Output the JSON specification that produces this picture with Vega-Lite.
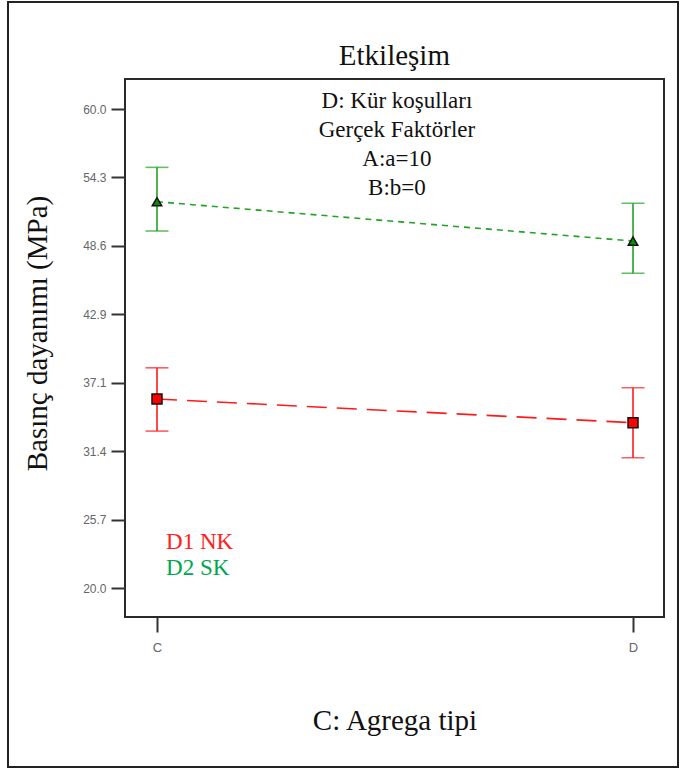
{
  "$schema": "https://vega.github.io/schema/vega-lite/v6.json",
  "width": 539,
  "height": 538,
  "autosize": {"type": "none"},
  "padding": {"left": 125, "top": 79, "right": 17, "bottom": 154},
  "background": "white",
  "config": {
    "view": {"stroke": "#2a2a2a", "strokeWidth": 2},
    "font": "Liberation Serif"
  },
  "datasets": {
    "means": [
      {"agrega": 0, "kur": "D1 NK", "mean": 35.8, "lo": 33.12, "hi": 38.4},
      {"agrega": 1, "kur": "D1 NK", "mean": 33.82, "lo": 30.9, "hi": 36.74},
      {"agrega": 0, "kur": "D2 SK", "mean": 52.26, "lo": 49.82, "hi": 55.13},
      {"agrega": 1, "kur": "D2 SK", "mean": 48.98, "lo": 46.29, "hi": 52.13}
    ],
    "title": [{"label": "Etkileşim"}],
    "note": [{"label": ["D: Kür koşulları", "Gerçek Faktörler", "A:a=10", "B:b=0"]}],
    "d1": [{"label": "D1 NK"}],
    "d2": [{"label": "D2 SK"}],
    "frame": [{"name": "frame"}]
  },
  "layer": [
    {
      "data": {"name": "means"},
      "encoding": {
        "x": {
          "field": "agrega",
          "type": "quantitative",
          "scale": {"domain": [-0.0672, 1.0651], "nice": false, "zero": false},
          "axis": {
            "title": "C: Agrega tipi",
            "values": [0, 1],
            "labelExpr": "datum.value == 0 ? 'C' : 'D'",
            "grid": false,
            "domain": false,
            "tickColor": "#333333",
            "tickWidth": 2,
            "tickSize": 15,
            "labelFont": "Liberation Sans",
            "labelFontSize": 13,
            "labelColor": "#666666",
            "labelPadding": 9,
            "titleFont": "Liberation Serif",
            "titleFontSize": 29,
            "titleFontWeight": "normal",
            "titleColor": "#111111",
            "titleBaseline": "alphabetic",
            "titleY": 112
          }
        },
        "y": {
          "field": "mean",
          "type": "quantitative",
          "scale": {"domain": [17.605, 62.504], "nice": false, "zero": false},
          "axis": {
            "title": "Basınç dayanımı (MPa)",
            "values": [20, 25.714, 31.429, 37.143, 42.857, 48.571, 54.286, 60],
            "format": ".1f",
            "grid": false,
            "domain": false,
            "tickColor": "#333333",
            "tickWidth": 2,
            "tickSize": 14,
            "labelFont": "Liberation Sans",
            "labelFontSize": 12,
            "labelColor": "#666666",
            "labelPadding": 5,
            "titleFont": "Liberation Serif",
            "titleFontSize": 29,
            "titleFontWeight": "normal",
            "titleColor": "#111111",
            "titleAngle": -90,
            "titleBaseline": "alphabetic",
            "titleX": -79,
            "titleY": 254
          }
        }
      },
      "layer": [
        {
          "mark": {"type": "rule", "strokeWidth": 1.6},
          "encoding": {
            "y": {"field": "lo", "type": "quantitative"},
            "y2": {"field": "hi"},
            "color": {"field": "kur", "type": "nominal", "scale": {"domain": ["D1 NK", "D2 SK"], "range": ["#ff1a1a", "#22a322"]}, "legend": null}
          }
        },
        {
          "mark": {"type": "tick", "orient": "horizontal", "size": 23, "thickness": 1.6},
          "encoding": {
            "y": {"field": "lo", "type": "quantitative"},
            "color": {"field": "kur", "type": "nominal", "legend": null}
          }
        },
        {
          "mark": {"type": "tick", "orient": "horizontal", "size": 23, "thickness": 1.6},
          "encoding": {
            "y": {"field": "hi", "type": "quantitative"},
            "color": {"field": "kur", "type": "nominal", "legend": null}
          }
        },
        {
          "mark": {"type": "line", "strokeWidth": 1.6},
          "encoding": {
            "color": {"field": "kur", "type": "nominal", "legend": null},
            "strokeDash": {"field": "kur", "type": "nominal", "scale": {"domain": ["D1 NK", "D2 SK"], "range": [[20, 10], [6, 5]]}, "legend": null}
          }
        },
        {
          "mark": {"type": "point", "filled": true, "stroke": "#111111", "strokeWidth": 1.5, "opacity": 1},
          "encoding": {
            "shape": {"field": "kur", "type": "nominal", "scale": {"domain": ["D1 NK", "D2 SK"], "range": ["square", "triangle-up"]}, "legend": null},
            "size": {"field": "kur", "type": "nominal", "scale": {"domain": ["D1 NK", "D2 SK"], "range": [100, 90]}, "legend": null},
            "fill": {"field": "kur", "type": "nominal", "scale": {"domain": ["D1 NK", "D2 SK"], "range": ["#ff0000", "#0d8a0d"]}, "legend": null}
          }
        }
      ]
    },
    {
      "data": {"name": "title"},
      "mark": {"type": "text", "font": "Liberation Serif", "fontWeight": "normal", "fontSize": 29, "align": "center", "baseline": "alphabetic", "color": "#111111"},
      "encoding": {
        "text": {"field": "label"},
        "x": {"datum": 0.4987, "type": "quantitative"},
        "y": {"datum": 63.67, "type": "quantitative"}
      }
    },
    {
      "data": {"name": "note"},
      "mark": {"type": "text", "font": "Liberation Serif", "fontWeight": "normal", "fontSize": 23, "lineHeight": 29, "align": "center", "baseline": "alphabetic", "color": "#111111"},
      "encoding": {
        "text": {"field": "label"},
        "x": {"datum": 0.504, "type": "quantitative"},
        "y": {"datum": 60.08, "type": "quantitative"}
      }
    },
    {
      "data": {"name": "d1"},
      "mark": {"type": "text", "font": "Liberation Serif", "fontWeight": "normal", "fontSize": 23, "align": "left", "baseline": "alphabetic", "color": "#ff2020"},
      "encoding": {
        "text": {"field": "label"},
        "x": {"datum": 0.019, "type": "quantitative"},
        "y": {"datum": 23.28, "type": "quantitative"}
      }
    },
    {
      "data": {"name": "d2"},
      "mark": {"type": "text", "font": "Liberation Serif", "fontWeight": "normal", "fontSize": 23, "align": "left", "baseline": "alphabetic", "color": "#00a651"},
      "encoding": {
        "text": {"field": "label"},
        "x": {"datum": 0.019, "type": "quantitative"},
        "y": {"datum": 21.11, "type": "quantitative"}
      }
    },
    {
      "data": {"name": "frame"},
      "mark": {"type": "rect", "fillOpacity": 0, "stroke": "#222222", "strokeWidth": 2, "clip": false},
      "encoding": {
        "x": {"datum": -0.313, "type": "quantitative"},
        "x2": {"datum": 1.0945},
        "y": {"datum": 68.93, "type": "quantitative"},
        "y2": {"datum": 5.08}
      }
    }
  ]
}
